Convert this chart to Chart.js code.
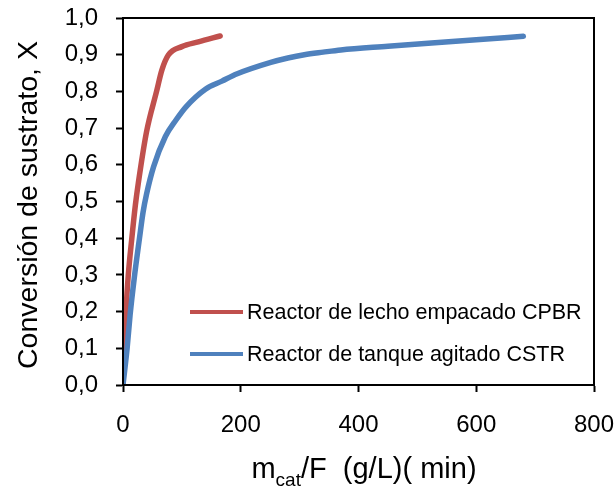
<!DOCTYPE html>
<html lang="es">
<head>
  <meta charset="UTF-8">
  <title>Conversión vs mcat/F</title>
  <script src="https://cdn.jsdelivr.net/npm/chart.js"></script>
  <style>
    html, body { margin: 0; padding: 0; background: #fff; }
    #wrap { width: 615px; height: 494px; }
  </style>
</head>
<body>
  <div id="wrap"><canvas id="conv"></canvas></div>

  <script>
    // mcat/F (g/L·min) and conversion X for each reactor
    const cpbrTime = [0, 2, 5, 9, 15, 21, 26, 40, 57, 66, 77, 100, 128, 165];
    const cpbrConv = [0, 0.10, 0.20, 0.30, 0.40, 0.49, 0.55, 0.69, 0.80, 0.858, 0.899, 0.922, 0.935, 0.951];
    const cstrTime = [0, 7, 12, 19, 28, 34, 40, 52, 72, 90, 107, 140, 168, 194, 251, 280, 308, 340, 370, 450, 524, 600, 680];
    const cstrConv = [0, 0.10, 0.19, 0.29, 0.40, 0.47, 0.52, 0.595, 0.677, 0.722, 0.758, 0.806, 0.828, 0.848, 0.879, 0.891, 0.900, 0.907, 0.913, 0.923, 0.932, 0.941, 0.95];
    const seriesNames = ['Reactor de lecho empacado CPBR', 'Reactor de tanque agitado CSTR'];
    const xTicks = [0, 200, 400, 600, 800];

    const FONT = '"Liberation Sans", Arial, sans-serif';
    const RED = '#C0504D';
    const BLUE = '#4F81BD';

    function toPoints(xs, ys) {
      return xs.map((x, i) => ({ x: x, y: ys[i] }));
    }

    // keep the plot box where the layout padding puts it
    function noAutoPadding(s) {
      s.paddingTop = 0;
      s.paddingBottom = 0;
      s.paddingLeft = 0;
      s.paddingRight = 0;
    }

    // box around the plot, legend inside it and both axis titles
    const decorations = {
      id: 'decorations',
      afterDatasetsDraw(chart) {
        const { ctx, chartArea: a } = chart;
        ctx.save();
        ctx.strokeStyle = '#000';
        ctx.lineWidth = 2;
        ctx.strokeRect(a.left, a.top, a.right - a.left, a.bottom - a.top);

        // legend
        const rows = [{ c: RED, y: 312 }, { c: BLUE, y: 354 }];
        ctx.font = '21.5px ' + FONT;
        ctx.textBaseline = 'middle';
        ctx.fillStyle = '#000';
        rows.forEach((r, i) => {
          ctx.strokeStyle = r.c;
          ctx.lineWidth = 4;
          ctx.beginPath();
          ctx.moveTo(190, r.y);
          ctx.lineTo(243, r.y);
          ctx.stroke();
          ctx.fillText(seriesNames[i], 247, r.y + 1);
        });

        // y title
        ctx.save();
        ctx.translate(29, 205);
        ctx.rotate(-Math.PI / 2);
        ctx.textAlign = 'center';
        ctx.textBaseline = 'middle';
        ctx.font = '28.5px ' + FONT;
        ctx.fillText('Conversión de sustrato, X', 0, 0);
        ctx.restore();

        // x title with subscript
        const big = '29px ' + FONT, small = '19px ' + FONT;
        const parts = [['m', big, 0], ['cat', small, 8], ['/F  (g/L)( min)', big, 0]];
        let w = 0;
        parts.forEach(p => { ctx.font = p[1]; w += ctx.measureText(p[0]).width; });
        let x = 364 - w / 2;
        const yb = 478;
        ctx.textBaseline = 'alphabetic';
        ctx.textAlign = 'left';
        parts.forEach(p => {
          ctx.font = p[1];
          ctx.fillText(p[0], x, yb + p[2]);
          x += ctx.measureText(p[0]).width;
        });
        ctx.restore();
      }
    };

    new Chart(document.getElementById('conv'), {
      type: 'scatter',
      data: {
        datasets: [
          {
            label: seriesNames[1],
            data: toPoints(cstrTime, cstrConv),
            showLine: true,
            borderColor: BLUE,
            borderWidth: 5.5,
            pointRadius: 0,
            cubicInterpolationMode: 'monotone',
            borderCapStyle: 'round',
            borderJoinStyle: 'round'
          },
          {
            label: seriesNames[0],
            data: toPoints(cpbrTime, cpbrConv),
            showLine: true,
            borderColor: RED,
            borderWidth: 5.5,
            pointRadius: 0,
            cubicInterpolationMode: 'monotone',
            borderCapStyle: 'round',
            borderJoinStyle: 'round'
          }
        ]
      },
      options: {
        responsive: true,
        maintainAspectRatio: false,
        animation: false,
        layout: { padding: { top: 18, right: 21, left: 0, bottom: 0 } },
        plugins: {
          legend: { display: false },
          tooltip: { enabled: false }
        },
        scales: {
          x: {
            type: 'linear',
            min: 0,
            max: 800,
            afterBuildTicks: s => { s.ticks = xTicks.map(v => ({ value: v })); },
            afterFit: s => { s.height = 109; noAutoPadding(s); },
            grid: { drawOnChartArea: false, tickLength: 7, tickColor: '#000', tickWidth: 2 },
            border: { color: '#000', width: 2 },
            ticks: { color: '#000', font: { family: FONT, size: 24 }, padding: 19, maxRotation: 0 }
          },
          y: {
            min: 0,
            max: 1,
            afterFit: s => { s.width = 123; noAutoPadding(s); },
            grid: { drawOnChartArea: false, tickLength: 7, tickColor: '#000', tickWidth: 2 },
            border: { color: '#000', width: 2 },
            ticks: {
              stepSize: 0.1,
              color: '#000',
              font: { family: FONT, size: 24 },
              padding: 18,
              callback: v => v.toFixed(1).replace('.', ',')
            }
          }
        }
      },
      plugins: [decorations]
    });
  </script>
</body>
</html>
